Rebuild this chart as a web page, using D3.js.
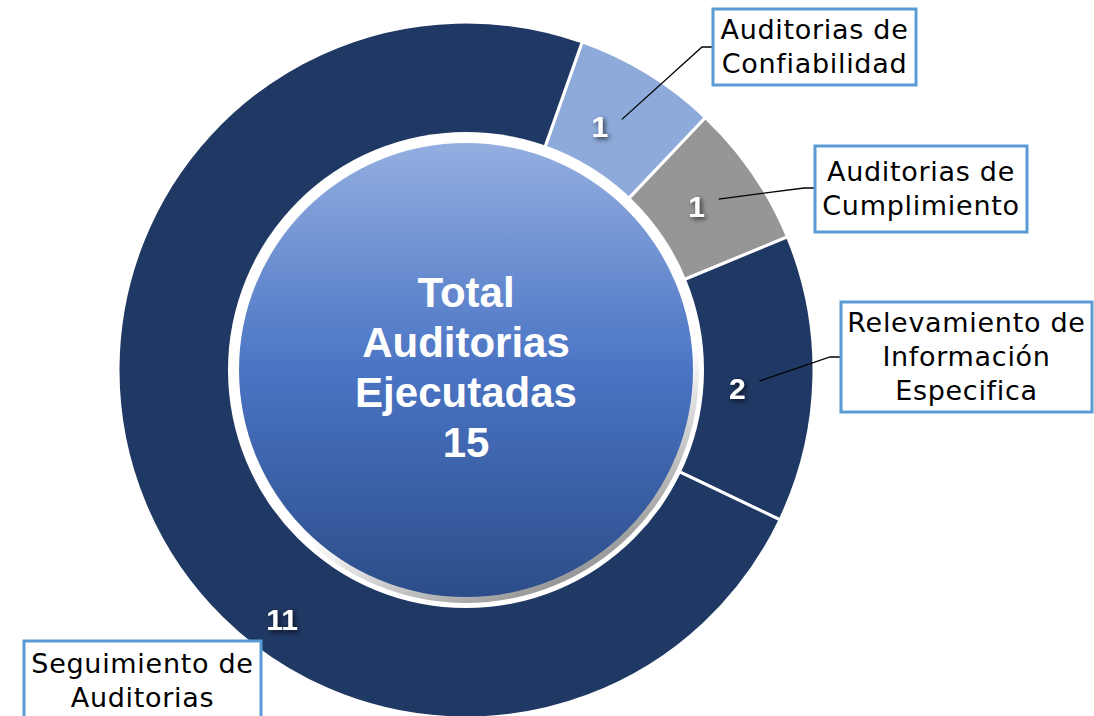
<!DOCTYPE html>
<html>
<head>
<meta charset="utf-8">
<script src="https://cdn.jsdelivr.net/npm/d3@7"></script>
<style>
	body { margin: 0; background: #fff; }
	svg { display: block; }
</style>
</head>
<body>
<svg width="1094" height="716"></svg>
<script>
// slice data, clockwise from the top-right
var categories = ['Auditorias de Confiabilidad', 'Auditorias de Cumplimiento', 'Relevamiento de Información Especifica', 'Seguimiento de Auditorias'];
var values = [1, 1, 2, 11];
var colors = ['#8eaadb', '#969696', '#203864', '#203864'];
var totalLines = ['Total', 'Auditorias', 'Ejecutadas'];

// label box text, one entry per category
var boxLines = [
	['Auditorias de', 'Confiabilidad'],
	['Auditorias de', 'Cumplimiento'],
	['Relevamiento de', 'Información', 'Especifica'],
	['Seguimiento de', 'Auditorias']
];

// layout of the callout boxes and where value labels sit (deg, radius)
var boxes = [
	{x: 713, y: 9, w: 203, h: 76, leaderY: 38},
	{x: 815, y: 146, w: 212, h: 86, leaderY: 42},
	{x: 841, y: 302, w: 251, h: 110, leaderY: 55},
	{x: 24, y: 641, w: 237, h: 80, leaderY: null}
];
var labelPos = [{a: 28.8, r: 278}, {a: 54.6, r: 283}, {a: 93.8, r: 272}, {a: 216.4, r: 310}];

var cx = 466, cy = 370;
var outerR = 348, innerR = 228, rimR = 238, diskR = 227;
var start = 19.5 * Math.PI / 180;

var svg = d3.select('svg');
var defs = svg.append('defs');

var grad = defs.append('linearGradient').attr('id', 'disk').attr('x1', 0).attr('y1', 0).attr('x2', 0).attr('y2', 1);
grad.append('stop').attr('offset', '0%').attr('stop-color', '#94aee0');
grad.append('stop').attr('offset', '50%').attr('stop-color', '#4a74c4');
grad.append('stop').attr('offset', '100%').attr('stop-color', '#2c4d89');

var rimGrad = defs.append('linearGradient').attr('id', 'rim').attr('x1', 0.3).attr('y1', 0.2).attr('x2', 0.7).attr('y2', 1);
rimGrad.append('stop').attr('offset', '0%').attr('stop-color', '#ffffff');
rimGrad.append('stop').attr('offset', '60%').attr('stop-color', '#ffffff');
rimGrad.append('stop').attr('offset', '100%').attr('stop-color', '#8c8c8c');

var shadow = defs.append('filter').attr('id', 'txtshadow').attr('x', '-50%').attr('y', '-50%').attr('width', '200%').attr('height', '200%');
shadow.append('feDropShadow').attr('dx', 2).attr('dy', 2).attr('stdDeviation', 2.5)
	.attr('flood-color', '#000').attr('flood-opacity', 0.7);

var g = svg.append('g').attr('transform', 'translate(' + cx + ',' + cy + ')');

var pie = d3.pie().sort(null).startAngle(start).endAngle(start + 2 * Math.PI);
var arc = d3.arc().innerRadius(innerR).outerRadius(outerR);
var arcs = pie(values);

g.selectAll('path.slice')
	.data(arcs)
	.enter().append('path')
		.attr('class', 'slice')
		.attr('d', arc)
		.attr('fill', function(d, i){ return colors[i]; })
		.attr('stroke', '#fff')
		.attr('stroke-width', 3)
		.attr('stroke-linejoin', 'round');

// centre disk with white bevelled rim
g.append('circle').attr('r', rimR).attr('fill', '#fff');
g.append('circle').attr('r', rimR - 5).attr('fill', 'url(#rim)');
g.append('circle').attr('r', diskR).attr('fill', 'url(#disk)');

var centerText = g.append('text')
	.attr('text-anchor', 'middle')
	.attr('font-family', 'Liberation Sans, Arial, sans-serif')
	.attr('font-weight', 'bold')
	.attr('font-size', 42)
	.attr('fill', '#fff');

totalLines.concat([d3.sum(values)]).forEach(function(t, i){
	centerText.append('tspan')
		.attr('x', 0)
		.attr('y', -63 + i * 50)
		.text(t);
});

// value labels
function labelXY(i){
	var a = labelPos[i].a * Math.PI / 180;
	return [labelPos[i].r * Math.sin(a), -labelPos[i].r * Math.cos(a)];
}

g.selectAll('text.val')
	.data(arcs)
	.enter().append('text')
		.attr('class', 'val')
		.attr('x', function(d, i){ return labelXY(i)[0]; })
		.attr('y', function(d, i){ return labelXY(i)[1]; })
		.attr('dy', '0.35em')
		.attr('text-anchor', 'middle')
		.attr('font-family', 'Liberation Sans, Arial, sans-serif')
		.attr('font-weight', 'bold')
		.attr('font-size', 30)
		.attr('fill', '#fff')
		.attr('filter', 'url(#txtshadow)')
		.text(function(d){ return d.data; });

// leader lines from value label to box
boxes.forEach(function(b, i){
	if( b.leaderY == null ) return;
	var p = labelXY(i);
	var sx = cx + p[0] + 22;
	var sy = cy + p[1] - 7;
	var ey = b.y + b.leaderY;
	svg.append('polyline')
		.attr('points', [[sx, sy], [b.x - 11, ey], [b.x, ey]].map(function(q){ return q.join(','); }).join(' '))
		.attr('fill', 'none')
		.attr('stroke', '#000')
		.attr('stroke-width', 1.3);
});

// callout boxes, text centred in each
boxes.forEach(function(b, i){
	svg.append('rect')
		.attr('x', b.x).attr('y', b.y)
		.attr('width', b.w).attr('height', b.h)
		.attr('fill', '#fff')
		.attr('stroke', '#5b9bd5')
		.attr('stroke-width', 3);

	var t = svg.append('text')
		.attr('text-anchor', 'middle')
		.attr('font-family', 'DejaVu Sans, Verdana, sans-serif')
		.attr('font-size', 27)
		.attr('letter-spacing', 0.7)
		.attr('fill', '#000');

	var n = boxLines[i].length;
	boxLines[i].forEach(function(line, li){
		t.append('tspan')
			.attr('x', b.x + b.w / 2)
			.attr('y', b.y + b.h / 2 + (li - (n - 1) / 2) * 34 + 9)
			.text(line);
	});
});
</script>
</body>
</html>
